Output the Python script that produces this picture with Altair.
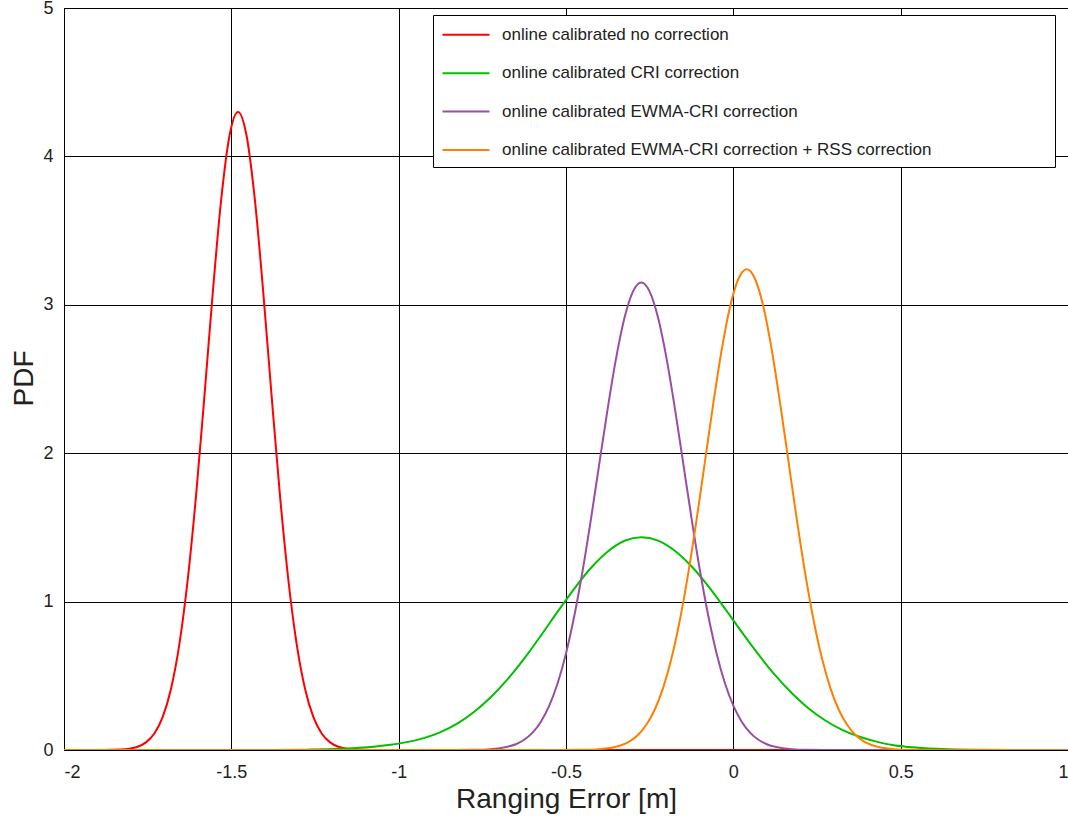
import altair as alt
import pandas as pd

series_names = [
    "online calibrated no correction",
    "online calibrated CRI correction",
    "online calibrated EWMA-CRI correction",
    "online calibrated EWMA-CRI correction + RSS correction",
]
series_colors = ["#ff0000", "#00c000", "#984ea3", "#ff7f00"]

red_x = [-2.0, -1.88, -1.83, -1.805, -1.78, -1.755, -1.73, -1.705, -1.68, -1.655, -1.63, -1.605,
         -1.58, -1.555, -1.53, -1.505, -1.48, -1.455, -1.43, -1.405, -1.38, -1.355, -1.33, -1.305,
         -1.28, -1.255, -1.23, -1.205, -1.18, -1.155, -1.13, -1.08, 1.0]
red_y = [0.0, 0.0004, 0.0033, 0.0089, 0.0223, 0.0516, 0.111, 0.223, 0.415, 0.717, 1.154, 1.724,
         2.396, 3.095, 3.715, 4.146, 4.300, 4.146, 3.715, 3.095, 2.396, 1.724, 1.154, 0.717,
         0.415, 0.223, 0.111, 0.0516, 0.0223, 0.0089, 0.0033, 0.0004, 0.0]

green_x = [-2.0, -1.375, -1.275, -1.175, -1.125, -1.075, -1.025, -0.975, -0.925, -0.875, -0.825,
           -0.775, -0.725, -0.675, -0.625, -0.575, -0.525, -0.475, -0.425, -0.375, -0.325, -0.275,
           -0.225, -0.175, -0.125, -0.075, -0.025, 0.025, 0.075, 0.125, 0.175, 0.225, 0.275,
           0.325, 0.375, 0.425, 0.475, 0.525, 0.575, 0.625, 0.725, 0.825, 1.0]
green_y = [0.0, 0.0004, 0.0025, 0.008, 0.014, 0.022, 0.035, 0.053, 0.080, 0.121, 0.178,
           0.256, 0.355, 0.476, 0.616, 0.771, 0.932, 1.088, 1.228, 1.338, 1.410, 1.434,
           1.411, 1.343, 1.238, 1.104, 0.953, 0.796, 0.644, 0.504, 0.382, 0.280, 0.199,
           0.136, 0.091, 0.058, 0.033, 0.020, 0.012, 0.007, 0.002, 0.0005, 0.0]

purple_x = [-2.0, -0.825, -0.775, -0.725, -0.675, -0.65, -0.625, -0.6, -0.575, -0.55, -0.525, -0.5,
            -0.475, -0.45, -0.425, -0.4, -0.375, -0.35, -0.325, -0.3, -0.275, -0.25, -0.225, -0.2,
            -0.175, -0.15, -0.125, -0.1, -0.075, -0.05, -0.025, 0.0, 0.025, 0.05, 0.075, 0.1,
            0.125, 0.175, 0.225, 0.275, 1.0]
purple_y = [0.0, 0.0002, 0.0013, 0.0057, 0.022, 0.039, 0.069, 0.117, 0.191, 0.299, 0.450, 0.651,
            0.906, 1.213, 1.563, 1.936, 2.307, 2.644, 2.914, 3.089, 3.150, 3.089, 2.914, 2.644,
            2.307, 1.936, 1.563, 1.213, 0.906, 0.651, 0.450, 0.299, 0.191, 0.117, 0.069, 0.039,
            0.022, 0.0057, 0.0013, 0.0002, 0.0]

orange_x = [-2.0, -0.51, -0.46, -0.41, -0.36, -0.335, -0.31, -0.285, -0.26, -0.235, -0.21, -0.185,
            -0.16, -0.135, -0.11, -0.085, -0.06, -0.035, -0.01, 0.015, 0.04, 0.065, 0.09, 0.115,
            0.14, 0.165, 0.19, 0.215, 0.24, 0.265, 0.29, 0.315, 0.34, 0.365, 0.39, 0.415, 0.44,
            0.49, 0.54, 0.59, 1.0]
orange_y = [0.0, 0.0001, 0.0009, 0.0042, 0.017, 0.032, 0.058, 0.101, 0.170, 0.271, 0.417, 0.616,
            0.873, 1.187, 1.549, 1.941, 2.334, 2.694, 2.985, 3.174, 3.240, 3.174, 2.985, 2.694,
            2.334, 1.941, 1.549, 1.187, 0.873, 0.616, 0.417, 0.271, 0.170, 0.101, 0.058, 0.032,
            0.017, 0.0042, 0.0009, 0.0001, 0.0]

x_ticks = [-2, -1.5, -1, -0.5, 0, 0.5, 1]
y_ticks = [0, 1, 2, 3, 4, 5]

rows = []
for name, xs, ys in zip(series_names,
                        [red_x, green_x, purple_x, orange_x],
                        [red_y, green_y, purple_y, orange_y]):
    for xv, yv in zip(xs, ys):
        rows.append({"series": name, "x": xv, "y": yv})
df = pd.DataFrame(rows)

FONT = "Liberation Sans"
TXT = "#222222"

lines = alt.Chart(df).mark_line(strokeWidth=2, interpolate="monotone", clip=True).encode(
    x=alt.X("x:Q",
            scale=alt.Scale(domain=[-2, 1], nice=False, zero=False),
            axis=alt.Axis(values=x_ticks, title="Ranging Error [m]",
                          labelExpr="'' + datum.value",
                          labelPadding=13, titleY=57, titleBaseline="alphabetic")),
    y=alt.Y("y:Q",
            scale=alt.Scale(domain=[0, 5], nice=False),
            axis=alt.Axis(values=y_ticks, title="PDF", labelPadding=11,
                          titleX=-32, titleY=370, titleAngle=270,
                          titleAlign="center", titleBaseline="alphabetic")),
    color=alt.Color("series:N",
                    scale=alt.Scale(domain=series_names, range=series_colors),
                    sort=series_names,
                    legend=alt.Legend(orient="none", legendX=389, legendY=13.75, title=None,
                                      symbolType="M-2,0H2", symbolSize=552,
                                      symbolStrokeWidth=2, labelFontSize=17, labelFont=FONT,
                                      labelColor=TXT, labelOffset=23, rowPadding=17.4,
                                      padding=0, labelLimit=0)),
)

legend_box = alt.Chart(pd.DataFrame({"a": [0]})).mark_rect(
    fill="white", stroke="black", strokeWidth=1
).encode(
    x=alt.value(369.5), x2=alt.value(991.5), y=alt.value(7.5), y2=alt.value(159.5)
)

chart = alt.layer(lines, legend_box).properties(
    width=1004, height=742,
    autosize=alt.AutoSizeParams(type="none"),
    padding={"left": 64, "top": 8, "right": 0, "bottom": 69},
    background="white",
).configure_view(
    stroke="black", strokeWidth=1
).configure_axis(
    domain=False, ticks=False, grid=True, gridColor="#000000", gridWidth=1, gridOpacity=1,
    labelFont=FONT, labelFontSize=18, labelColor=TXT,
    titleFont=FONT, titleFontSize=28, titleColor=TXT, titleFontWeight="normal",
)

chart.save("out.html", embed_options={"renderer": "svg", "actions": False})
